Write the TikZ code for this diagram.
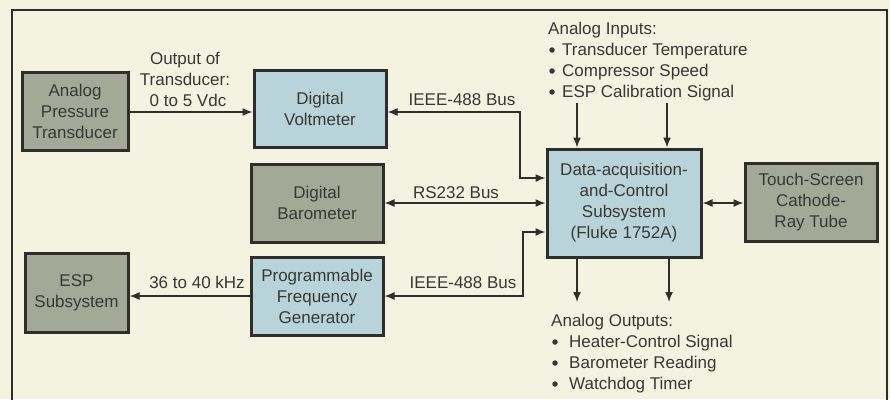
\documentclass[tikz,border=0pt]{standalone}
\usepackage{fontspec}
\setmainfont{Liberation Sans}
\usetikzlibrary{arrows.meta}
\definecolor{bgc}{HTML}{F4F3E2}
\definecolor{grayfill}{HTML}{A4A897}
\definecolor{bluefill}{HTML}{B8D3D9}
\definecolor{inkc}{HTML}{2E2E2A}
\definecolor{txtc}{HTML}{383834}
\begin{document}
\begin{tikzpicture}[x=1pt,y=-1pt,
  every node/.style={text=txtc, font=\fontsize{17}{21}\selectfont},
  boxbase/.style={draw=inkc, line width=3pt, align=center, inner sep=0pt},
  graybox/.style={boxbase, fill=grayfill},
  bluebox/.style={boxbase, fill=bluefill},
  conn/.style={draw=inkc, line width=1.5pt},
  tip/.style={-{Latex[length=10pt,width=8pt]}},
  tiptwo/.style={{Latex[length=10pt,width=8pt]}-{Latex[length=10pt,width=8pt]}},
  lbl/.style={inner sep=0pt, align=center},
  lline/.style={inner sep=0pt, anchor=base west},
  bul/.style={circle, fill=txtc, inner sep=0pt, minimum size=5.5pt}
]
\fill[bgc] (0,0) rectangle (890,399);
\useasboundingbox (0,0) rectangle (890,399);
% frame (open at bottom, cropped)
\draw[inkc, line width=1.5pt] (12,402) -- (12,10) -- (887,10) -- (887,402);

% boxes
\node[graybox, minimum width=106pt, minimum height=78pt] (apt) at (75,111) {Analog\\Pressure\\Transducer};
\node[bluebox, minimum width=132pt, minimum height=77pt] (dvm) at (320,108.5) {Digital\\Voltmeter};
\node[graybox, minimum width=132pt, minimum height=78pt] (baro) at (317,203) {Digital\\Barometer};
\node[graybox, minimum width=103pt, minimum height=79pt] (esp) at (76.5,292.5) {ESP\\Subsystem};
\node[bluebox, minimum width=132pt, minimum height=78pt] (pfg) at (317,296) {Programmable\\Frequency\\Generator};
\node[bluebox, minimum width=154pt, minimum height=108pt] (daq) at (624,203) {Data-acquisition-\\and-Control\\Subsystem\\(Fluke 1752A)};
\node[graybox, minimum width=132pt, minimum height=78pt] (crt) at (811,202) {Touch-Screen\\Cathode-\\Ray Tube};

% coordinates
\coordinate (k1) at (520,112);
\coordinate (k2) at (523,296);
\coordinate (in1) at (577,103);
\coordinate (in2) at (667,103);
\coordinate (out1) at (577,302);
\coordinate (out2) at (669,302);

% connectors
\draw[conn, tip] (apt.east |- 0,112) -- (dvm.west |- 0,112);
\draw[conn, tiptwo] (dvm.east |- k1) -- (k1) |- ([yshift=25pt]daq.west);
\draw[conn, tiptwo] (baro.east) -- (daq.west);
\draw[conn, tiptwo] (pfg.east |- k2) -- (k2) |- ([yshift=-29pt]daq.west);
\draw[conn, tip] (pfg.west) -- (esp.east |- pfg.west);
\draw[conn, tiptwo] (daq.east) -- (crt.west |- daq.east);
\draw[conn, tip] (in1) -- (daq.north -| in1);
\draw[conn, tip] (in2) -- (daq.north -| in2);
\draw[conn, tip] (daq.south -| out1) -- (out1);
\draw[conn, tip] (daq.south -| out2) -- (out2);

% labels
\node[lbl] (lout) at (185,79) {Output of\\Transducer:\\\hspace*{6pt}0 to 5 Vdc};
\node[lbl] (lieee1) at (462,100) {IEEE-488 Bus};
\node[lbl] (lrs) at (456,193) {RS232 Bus};
\node[lbl] (lieee2) at (463,283) {IEEE-488 Bus};
\node[lbl] (lkhz) at (197,282) {36 to 40 kHz};

% analog inputs
\node[lline] (ain0) at (548,34) {Analog Inputs:};
\node[bul] (bi1) at (552,50) {};
\node[lline] (ain1) at (562,55) {Transducer Temperature};
\node[bul] (bi2) at (552,71) {};
\node[lline] (ain2) at (562,76) {Compressor Speed};
\node[bul] (bi3) at (552,92) {};
\node[lline] (ain3) at (562,97) {ESP Calibration Signal};

% analog outputs
\node[lline] (aout0) at (551,326) {Analog Outputs:};
\node[bul] (bo1) at (555,342) {};
\node[lline] (aout1) at (569,347) {Heater-Control Signal};
\node[bul] (bo2) at (555,363) {};
\node[lline] (aout2) at (569,368) {Barometer Reading};
\node[bul] (bo3) at (555,384) {};
\node[lline] (aout3) at (569,389) {Watchdog Timer};
\end{tikzpicture}
\end{document}
